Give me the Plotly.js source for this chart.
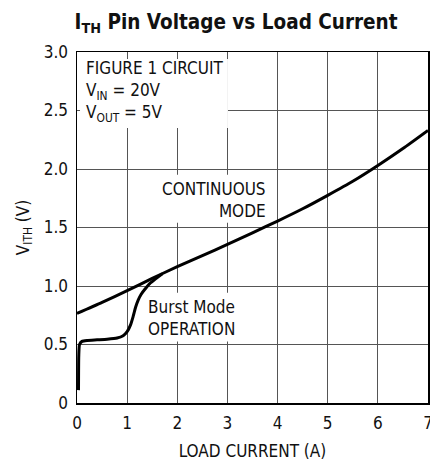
<!DOCTYPE html>
<html>
<head>
<meta charset="utf-8">
<script src="https://cdn.plot.ly/plotly-3.0.1.min.js"></script>
<style>html,body{margin:0;padding:0;background:#fff;}#chart{width:430px;height:463px;}</style>
</head>
<body>
<div id="chart"></div>
<script>
// Continuous mode curve (load current A, V_ITH V)
var contX = [0, 0.5, 1, 1.5, 2, 2.5, 3, 3.5, 4, 4.5, 5, 5.5, 6, 6.5, 7];
var contY = [0.765, 0.86, 0.96, 1.065, 1.165, 1.26, 1.355, 1.455, 1.555, 1.66, 1.775, 1.895, 2.03, 2.175, 2.33];
// Burst Mode operation curve
var burstX = [0.03, 0.035, 0.05, 0.1, 0.2, 0.4, 0.6, 0.8, 0.92, 1.0, 1.07, 1.12, 1.17, 1.22, 1.28, 1.35, 1.45, 1.58, 1.7];
var burstY = [0.11, 0.40, 0.50, 0.527, 0.535, 0.54, 0.545, 0.555, 0.575, 0.61, 0.67, 0.74, 0.82, 0.88, 0.93, 0.97, 1.02, 1.065, 1.105];
// Axis ticks
var xTickVals = [0, 1, 2, 3, 4, 5, 6, 7];
var xTickText = ['0', '1', '2', '3', '4', '5', '6', '7'];
var yTickVals = [0, 0.5, 1.0, 1.5, 2.0, 2.5, 3.0];
var yTickText = ['0', '0.5', '1.0', '1.5', '2.0', '2.5', '3.0'];

var FONT = '"Liberation Sans Narrow", "DejaVu Sans Condensed", "Arial Narrow", sans-serif';

var traces = [
  {x: contX, y: contY, mode: 'lines', line: {color: '#000', width: 3, shape: 'spline', smoothing: 0.6}, hoverinfo: 'skip'},
  {x: burstX, y: burstY, mode: 'lines', line: {color: '#000', width: 3, shape: 'spline', smoothing: 0.5}, hoverinfo: 'skip'}
];

function rect(x0, x1, y0, y1) {
  return {type: 'rect', xref: 'x', yref: 'y', x0: x0, x1: x1, y0: y0, y1: y1,
          fillcolor: '#fff', line: {width: 0}, layer: 'between'};
}

var layout = {
  width: 430, height: 463,
  margin: {l: 77, r: 2, t: 52, b: 59.5},
  paper_bgcolor: '#fff', plot_bgcolor: '#fff',
  showlegend: false,
  font: {family: FONT, size: 17, color: '#111'},
  title: {
    text: '<b>I<sub>TH</sub> Pin Voltage vs Load Current</b>',
    font: {family: FONT, size: 20.5, color: '#111'},
    x: 0.549, xanchor: 'center', xref: 'container',
    y: 1 - 22 / 463, yanchor: 'middle', yref: 'container'
  },
  xaxis: {
    range: [0, 7], tickvals: xTickVals, ticktext: xTickText,
    showgrid: true, gridcolor: '#555', gridwidth: 1,
    showline: true, linecolor: '#000', linewidth: 1.5, mirror: true,
    zeroline: false, ticks: '', fixedrange: true,
    ticklabeloverflow: 'allow', ticklabelstandoff: 4,
    tickfont: {family: FONT, size: 17, color: '#111'},
    title: {text: 'LOAD CURRENT (A)', font: {family: FONT, size: 17, color: '#111'}, standoff: 13}
  },
  yaxis: {
    range: [0, 3], tickvals: yTickVals, ticktext: yTickText,
    showgrid: true, gridcolor: '#555', gridwidth: 1,
    showline: true, linecolor: '#000', linewidth: 1.5, mirror: true,
    zeroline: false, ticks: '', fixedrange: true,
    ticklabeloverflow: 'allow', ticklabelstandoff: 4,
    tickfont: {family: FONT, size: 17, color: '#111'},
    title: {text: 'V<sub>ITH</sub> (V)', font: {family: FONT, size: 17, color: '#111'}, standoff: 10}
  },
  shapes: [
    rect(0.06, 3.01, 2.35, 2.94),
    rect(1.66, 3.89, 1.54, 1.95),
    rect(1.32, 3.21, 0.525, 0.943)
  ],
  annotations: [
    {xref: 'x', yref: 'y', x: 0.14, y: 2.965, xanchor: 'left', yanchor: 'top', align: 'left', showarrow: false,
     text: 'FIGURE 1 CIRCUIT<br>V<sub>IN</sub> = 20V<br>V<sub>OUT</sub> = 5V',
     font: {family: FONT, size: 17, color: '#111'}},
    {xref: 'x', yref: 'y', x: 3.8, y: 1.737, xanchor: 'right', yanchor: 'middle', align: 'right', showarrow: false,
     text: 'CONTINUOUS<br>MODE', font: {family: FONT, size: 17, color: '#111'}},
    {xref: 'x', yref: 'y', x: 1.37, y: 0.73, xanchor: 'left', yanchor: 'middle', align: 'left', showarrow: false,
     text: 'Burst Mode<br>OPERATION', font: {family: FONT, size: 17, color: '#111'}}
  ]
};

Plotly.newPlot('chart', traces, layout, {staticPlot: true, displayModeBar: false});
</script>
</body>
</html>
